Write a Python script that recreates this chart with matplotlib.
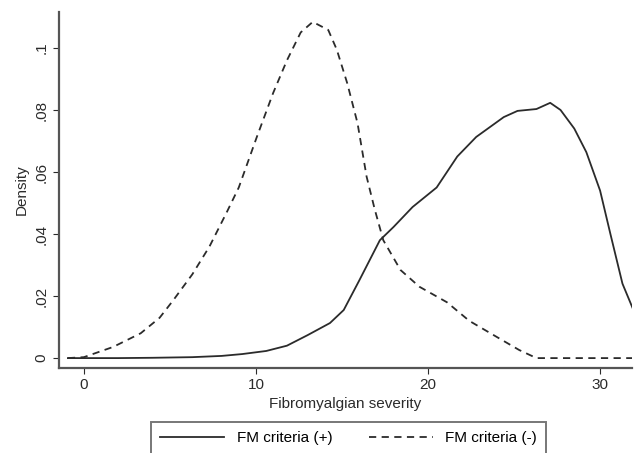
import matplotlib.pyplot as plt

# FM criteria (+) density curve
pos_x = [-0.93, 2, 4, 6.3, 8, 9.2, 10.6, 11.8, 13.0, 14.3, 15.1, 16.0, 17.2, 18.0, 19.1,
         20.5, 21.7, 22.8, 24.4, 25.2, 26.3, 27.1, 27.7, 28.5, 29.2, 30.0, 30.6, 31.3, 31.9]
pos_y = [0, 0, 0.0001, 0.0003, 0.0007, 0.0013, 0.0023, 0.004, 0.0074, 0.0113, 0.0155,
         0.025, 0.038, 0.0423, 0.0487, 0.055, 0.065, 0.0713, 0.0777, 0.0797, 0.0803,
         0.0823, 0.080, 0.074, 0.0664, 0.054, 0.040, 0.024, 0.016]

# FM criteria (-) density curve
neg_x = [-0.93, 0, 1.7, 3.3, 4.4, 5.2, 6.3, 7.3, 8.3, 9.0, 10.05, 11.0, 11.8, 12.6, 13.3,
         14.2, 14.7, 15.3, 15.9, 16.43, 16.9, 17.4, 18.4, 19.5, 21.1, 22.4, 24.0, 25.3,
         26.3, 28, 30, 31.9]
neg_y = [0, 0.0003, 0.0036, 0.008, 0.013, 0.0187, 0.027, 0.036, 0.047, 0.055, 0.0713,
         0.0855, 0.096, 0.105, 0.1084, 0.1058, 0.0994, 0.0887, 0.0758, 0.0585, 0.048,
         0.038, 0.0284, 0.023, 0.018, 0.012, 0.0068, 0.0026, 0, 0, 0, 0]

xticks = [0, 10, 20, 30]
yticks = [0, 0.02, 0.04, 0.06, 0.08, 0.1]
ytick_labels = ['0', '.02', '.04', '.06', '.08', '.1']

plt.rcParams['font.family'] = ['Liberation Sans', 'DejaVu Sans']
col = '#2b2b2b'
fs = 11

fig = plt.figure(figsize=(6.34, 4.53), dpi=100)
ax = fig.add_axes([0.093, 0.1876, 0.904, 0.786])

l1, = ax.plot(pos_x, pos_y, color=col, lw=1.3, label='FM criteria (+)')
l2, = ax.plot(neg_x, neg_y, color=col, lw=1.3, dashes=(4, 3), label='FM criteria (-)')

ax.set_xlim(-1.45, 31.86)
ax.set_ylim(-0.0032, 0.1116)
ax.set_xticks(xticks)
ax.set_yticks(yticks)
ax.set_yticklabels(ytick_labels, rotation=90, va='center')
ax.tick_params(colors=col, labelsize=fs, length=4)
for s in ['top', 'right']:
    ax.spines[s].set_visible(False)
for s in ['left', 'bottom']:
    ax.spines[s].set_color('#555555')
    ax.spines[s].set_linewidth(1.6)

ax.set_xlabel('Fibromyalgian severity', fontsize=fs, color=col, labelpad=3)
ax.set_ylabel('Density', fontsize=fs, color=col, labelpad=4)

leg = fig.legend(handles=[l1, l2], loc='upper center', bbox_to_anchor=(0.55, 0.068),
                 ncol=2, fontsize=fs, frameon=True, fancybox=False, handlelength=4.2,
                 handletextpad=0.8, columnspacing=2.4, borderpad=0.6,
                 borderaxespad=0)
leg.get_frame().set_edgecolor('#555555')
leg.get_frame().set_linewidth(1.4)

fig.savefig('out.png', dpi=100)
